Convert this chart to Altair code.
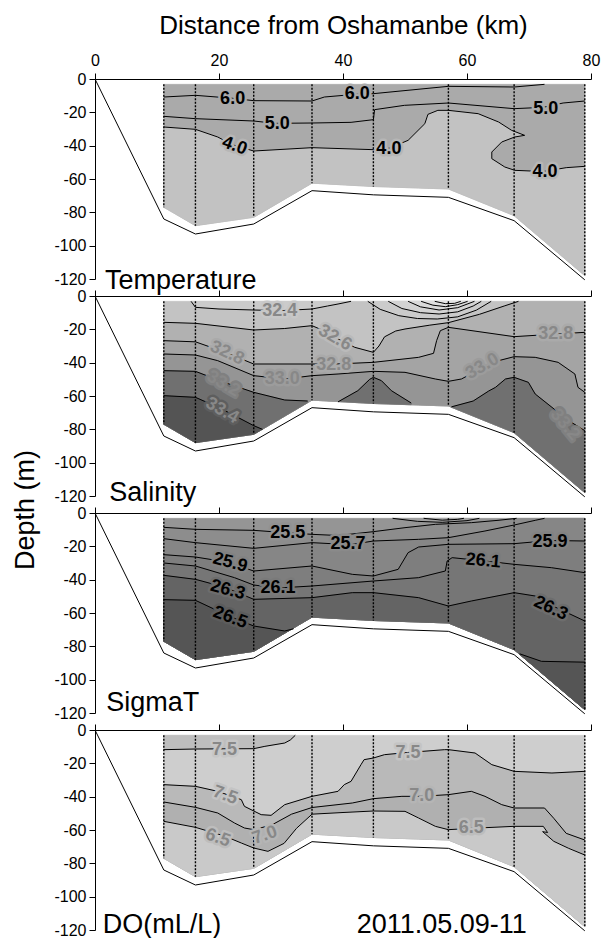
import altair as alt
import numpy as np
import pandas as pd

FONT = "Liberation Sans"

# ---------------- common geometry (km, depth m) ----------------
STATIONS = [11.1, 16.2, 25.6, 35.0, 44.9, 57.0, 67.6, 79.0]
FILL_BOTTOM = [-77, -88, -83, -62.5, -64.5, -66, -82, -118]
PROFILE_X = [0, 11.1, 16.2, 25.6, 35.0, 44.9, 57.0, 67.6, 79.0]
PROFILE_D = [0, -84, -93, -87, -67, -69.5, -71, -85, -120.5]
SURFACE = -3.2
X_TICKS = [0, 20, 40, 60, 80]
Y_TICKS = [0, -20, -40, -60, -80, -100, -120]

# ---------------- Temperature contours ----------------
T_60 = [(11.1, -10.8), (16.2, -9.8), (22, -11.5), (25.6, -13.0), (35.0, -13.2), (37.0, -10.8),
        (42, -9.2), (44.9, -8.8), (57.0, -4.4), (67.6, -4.8), (72.5, -3.2)]
T_50 = [(11.1, -22.4), (16.2, -23.8), (25.6, -25.2), (29, -26.6), (35.0, -26.4), (41.3, -26.0),
        (44.9, -24.4), (45.1, -18.4), (49.9, -15.8), (57.0, -14.4), (67.6, -17.8), (72.3, -17.0),
        (75.5, -14.4), (79.0, -13.2)]
T_40 = [(11.1, -28.8), (16.2, -30.2), (19.8, -34.8), (22.2, -39.5), (25.6, -43.2), (35.0, -41.2),
        (44.9, -42.4), (47.5, -41.5), (50.5, -36.8), (53.2, -26.8), (53.7, -21.2), (55.3, -18.8),
        (57.0, -18.8), (61.8, -20.8), (65.1, -25.8), (67.2, -30.8), (69.3, -33.8), (67.7, -34.8),
        (65.6, -37.8), (64.0, -43.8), (64.0, -47.8), (66.1, -52.8), (67.7, -54.8), (72.3, -55.5),
        (76.0, -53.2), (79.0, -52.4)]
T_LABELS = [("6.0", 22.2, -11.8, 0, "#aaaaaa"), ("6.0", 42.3, -9.2, 0, "#aaaaaa"),
            ("5.0", 29.4, -26.8, 0, "#aaaaaa"), ("5.0", 72.7, -18.2, 0, "#aaaaaa"),
            ("4.0", 22.5, -40.2, 20, "#b6b6b6"), ("4.0", 47.4, -41.8, 0, "#b6b6b6"),
            ("4.0", 72.6, -55.8, 0, "#b6b6b6")]

# ---------------- Salinity contours ----------------
S_324 = [(15.5, -3.2), (16.2, -6.8), (20, -7.8), (25.6, -8.4), (30, -8.8), (35, -7.8),
         (37.5, -6.0), (39.2, -4.8), (41.3, -3.2)]
S_LENS = [
    [(44.0, -3.2), (46, -8), (49, -11.8), (52, -13.5), (55.2, -13.8), (58.5, -12.5), (61.5, -8.5), (63.9, -3.2)],
    [(47.3, -3.2), (49.5, -7.5), (52.5, -10), (55.5, -10.8), (58.5, -9.5), (61, -6), (62.3, -3.2)],
    [(50.5, -3.2), (52.5, -6.5), (55.5, -8.4), (58.5, -7), (61.2, -3.2)],
    [(52.6, -3.2), (54.5, -5.5), (56.5, -6.4), (58.5, -5.2), (60.1, -3.2)],
    [(54.8, -3.2), (56.5, -4.6), (58, -4.4), (59, -3.2)],
]
S_LENS_SHADES = ["#cbcbcb", "#d3d3d3", "#dadada", "#e0e0e0", "#e6e6e6"]
S_326 = [(11.1, -15.8), (16.2, -16.4), (25.6, -20.4), (30.6, -19.5), (35, -17.8), (37, -21),
         (39.2, -25.8), (41.9, -30.8), (44.9, -33.8), (45.8, -30), (46.7, -24.5), (48.5, -21),
         (50, -19.8), (54, -17.5), (57, -16), (62, -11), (66, -6), (68.3, -3.2)]
S_328 = [(11.1, -26.8), (16.2, -27.5), (20.8, -33.5), (25.6, -40.8), (35, -40.8), (38.9, -40.8),
         (44.9, -39.8), (52.2, -36.8), (54.6, -34.4), (55.1, -26.8), (55.7, -20.8), (57, -18.8),
         (67.6, -24.4), (73.6, -23), (79, -21.8)]
S_330 = [(11.1, -34.8), (16.2, -35.4), (19.8, -38.8), (25.6, -47.8), (30.6, -49.8), (35, -47.8),
         (39.2, -46.8), (44.9, -45.2), (50, -45.8), (54.9, -49.8), (57, -51.2), (59.1, -49.8),
         (62.3, -43.5), (65.1, -38.8), (67.6, -36.4), (71, -36.8), (74.7, -39.8), (77.4, -46.8),
         (77.9, -54.8), (79, -57.8)]
S_332_A = [(11.1, -44.8), (16.2, -45.2), (20.6, -51.5), (25.6, -57.8), (30.6, -62.4), (34.3, -63.0)]
S_332_B = [(39.2, -63.5), (42.4, -56.8), (44.3, -50), (44.9, -48.8), (46.2, -50.8), (47.8, -56.8), (51, -64.2)]
S_332_C = [(57.5, -66.5), (61, -63), (63.5, -57), (64.6, -54.8), (66.2, -49.8), (67.6, -48.8),
           (69.9, -51.8), (71, -58.8), (73.7, -66.8), (76.4, -74.8), (79, -80.8)]
S_334 = [(11.1, -59.8), (16.2, -60.8), (20.3, -67.5), (25.6, -77.8), (27, -80)]
S_LABELS = [("32.4", 29.8, -8.8, 0, "#c7c7c7"), ("32.6", 38.7, -25.2, 30, "#bababa"),
            ("32.8", 21.3, -34.2, 25, "#aaaaaa"), ("33.0", 30.2, -49.8, 0, "#9c9c9c"),
            ("33.2", 20.7, -52.8, 30, "#808080"), ("33.4", 20.5, -68.8, 30, "#5e5e5e"),
            ("32.8", 38.5, -41.2, 0, "#aaaaaa"), ("33.0", 62.5, -42.2, 330, "#9c9c9c"),
            ("32.8", 74.3, -22.8, 0, "#aaaaaa"), ("33.2", 75.8, -77.2, 50, "#808080")]

# ---------------- SigmaT contours ----------------
G_255 = [(11.1, -8.6), (16.2, -9.8), (25.6, -10.4), (31.5, -12), (35, -12.8), (39.2, -13.5),
         (44.9, -11.2), (50, -8.8), (54.9, -6.8), (60.7, -5.8), (65, -4.4), (68, -3.2)]
G_257 = [(11.1, -15.4), (16.2, -17.8), (25.6, -21.2), (35, -17.8), (41.2, -19), (44.9, -16.8),
         (52.2, -15.8), (57, -14.8), (62.9, -10.8), (67.6, -7.2), (71, -4.4), (72.5, -3.2)]
G_259 = [(11.1, -25), (16.2, -26.4), (21.4, -29.5), (25.6, -34.8), (35, -31.8), (41.5, -36.8),
         (44.9, -37.8), (48.9, -33.8), (50.5, -23.8), (52.2, -20.4), (57, -18.8), (67.6, -18.4),
         (73.4, -16.5), (79, -16.8)]
G_261 = [(11.1, -30), (16.2, -31.8), (22.5, -38.8), (25.6, -43.2), (29.5, -45), (35, -43.8),
         (44.9, -40.8), (52.2, -38.8), (56.5, -34.8), (56.8, -28.8), (57.6, -26.8), (62.9, -28.8),
         (67.6, -30.8), (73.6, -32.8), (79, -35.8)]
G_263 = [(11.1, -37.4), (16.2, -39.8), (20.9, -44.5), (25.6, -51.8), (35, -50.8), (41.5, -47.8),
         (44.9, -47.8), (52.2, -50.8), (57, -55.8), (60.7, -52.8), (67.6, -47.8), (71, -49.8),
         (73.4, -55), (79, -64.8)]
G_265_A = [(11.1, -52), (16.2, -52.4), (21.7, -62), (25.6, -67.8), (30.6, -70.8), (32.0, -69.5)]
G_265_B = [(68.5, -84.5), (72, -89), (79, -89.5)]
G_LENS = [[(48, -3.2), (52, -5), (56, -5.6), (60, -4.6), (62, -3.2)],
          [(53, -3.2), (56, -4.3), (58.5, -3.8), (59.5, -3.2)]]
G_LENS_SHADES = ["#a0a0a0", "#ababab"]
G_LABELS = [("25.5", 31.1, -11.8, 0, "#919191"), ("25.7", 40.8, -18.8, 0, "#8a8a8a"),
            ("25.9", 21.8, -29.8, 15, "#828282"), ("26.3", 21.4, -46.2, 15, "#6d6d6d"),
            ("26.1", 29.5, -45.2, 0, "#7a7a7a"), ("26.5", 21.8, -62.8, 20, "#5c5c5c"),
            ("25.9", 73.4, -17.2, 0, "#828282"), ("26.1", 62.6, -28.8, 5, "#7a7a7a"),
            ("26.3", 73.5, -57.2, 25, "#6d6d6d")]

# ---------------- DO contours ----------------
D_75A = [(11.1, -11.8), (16.2, -11.4), (25.6, -11.2), (27.4, -9.8), (30.6, -7.8), (31.5, -6), (32.3, -3.2)]
D_75B = [(11.1, -32.8), (16.2, -33.8), (19.8, -36.8), (23.6, -41.8), (24.1, -45.8), (26.8, -50.8),
         (28.4, -51.2), (30.6, -44.8), (35, -39.8), (39.2, -36.8), (40.2, -32.8), (41.3, -30.8),
         (42.9, -20.8), (43.4, -17.8), (44.9, -16.8), (46.7, -14.8), (50.4, -13.5), (56.4, -11.8),
         (57, -11.8), (61.3, -13.8), (64, -20.8), (67.6, -24.8), (73.7, -25.8), (79, -24.8)]
D_70 = [(11.1, -43.2), (16.2, -46.4), (19.8, -49.8), (22.5, -55.8), (24.1, -58.8), (25.6, -59.8),
        (28.5, -57), (31.7, -50.5), (35, -46.5), (41.5, -43.8), (44.9, -41.2), (49.5, -39.8),
        (52.6, -39.8), (57, -38.8), (60.7, -36.8), (62.9, -39.8), (65.6, -44.8), (67.6, -46.8),
        (72.5, -46.8), (74, -53), (76, -62), (79, -66)]
D_65 = [(11.1, -54.8), (16.2, -58.4), (20.8, -63.5), (23.6, -67.8), (25.6, -70.8), (27.9, -72.8),
        (30.5, -68), (32.5, -59), (35, -50.5), (40, -49.5), (44.9, -48.6), (50, -48.8), (52.2, -52.8),
        (54.9, -57.8), (57, -59.8), (60.7, -59), (67.6, -57.8), (72.3, -57.8), (73, -61.5),
        (72.2, -61), (74, -66.8), (76.4, -71), (79, -75)]
D_LABELS = [("7.5", 20.9, -11.8, 0, "#c6c6c6"), ("7.5", 21.0, -39.2, 20, "#c4c4c4"),
            ("6.5", 19.8, -64.8, 20, "#bdbdbd"), ("7.0", 27.4, -63.2, 340, "#b5b5b5"),
            ("7.5", 50.5, -13.8, 0, "#c4c4c4"), ("7.0", 52.7, -39.8, 0, "#b5b5b5"),
            ("6.5", 60.7, -58.8, 0, "#bdbdbd")]

PANEL_NAMES = [("Temperature", 1.6, -126), ("Salinity", 2.3, -123), ("SigmaT", 1.8, -119),
               ("DO(mL/L)", 1.25, -121.5)]
DATE_TEXT = ("2011.05.09-11", 42.2, -121.5)
DEPTH_TITLE = ("Depth (m)", -11.1, -128.4)


# ---------------- helpers ----------------
def bottom_at(x):
    return float(np.interp(x, STATIONS, FILL_BOTTOM))


def below(contour, to_top_right=False):
    pts = [tuple(p) for p in contour]
    if to_top_right:
        pts.append((STATIONS[-1], SURFACE))
    xs, xe = pts[0][0], pts[-1][0]
    tail = [(xe, bottom_at(xe))]
    tail += [(x, d) for x, d in zip(STATIONS[::-1], FILL_BOTTOM[::-1]) if xs < x < xe]
    tail.append((xs, bottom_at(xs)))
    return pts + tail


WHOLE = below([(STATIONS[0], SURFACE), (STATIONS[-1], SURFACE)])

XS = alt.Scale(domain=[0, 80], nice=False, zero=False)
YS = alt.Scale(domain=[-120, 0], nice=False, zero=False)


def axis_x(first):
    kw = dict(orient="top", values=X_TICKS, tickSize=6, tickColor="black", domainColor="black",
              labelFontSize=16, labelFont=FONT, labelColor="black", labelPadding=5,
              labelFlush=False, grid=False)
    if first:
        kw.update(titleFontSize=26, titleFont=FONT, titleFontWeight="normal",
                  titleColor="black", titlePadding=14)
    else:
        kw.update(labels=False)
    return alt.Axis(**kw)


AXIS_Y = alt.Axis(values=Y_TICKS, tickSize=6, tickColor="black", domainColor="black",
                  labelFontSize=16, labelFont=FONT, labelColor="black", labelPadding=3,
                  labelOverlap=False, grid=False,
                  labelExpr="datum.value == 0 ? '0' : '-' + format(-datum.value, 'd')")


def frame(pts):
    return pd.DataFrame({"x": [p[0] for p in pts], "d": [p[1] for p in pts],
                         "i": list(range(len(pts)))})


def panel(idx, polys, lines, labels, label_color, extra_texts):
    X = alt.X("x:Q", scale=XS, axis=axis_x(idx == 0),
              title="Distance from Oshamanbe (km)" if idx == 0 else None)
    Y = alt.Y("d:Q", scale=YS, axis=AXIS_Y, title=None)
    layers = []
    for pts, color in polys:
        layers.append(
            alt.Chart(frame(pts)).mark_line(interpolate="linear-closed", fill=color, stroke=color,
                                            strokeWidth=0.6)
            .encode(x=X, y=Y, order="i:Q"))
    rows = []
    for k, ln in enumerate(lines):
        for j, (x, d) in enumerate(ln):
            rows.append({"x": x, "d": d, "line": k, "i": j})
    layers.append(alt.Chart(pd.DataFrame(rows)).mark_line(color="black", strokeWidth=1)
                  .encode(x=X, y=Y, detail="line:N", order="i:Q"))
    st = pd.DataFrame({"x": STATIONS, "d": [SURFACE] * len(STATIONS), "d2": FILL_BOTTOM})
    layers.append(alt.Chart(st).mark_rule(color="black", strokeWidth=1.4, strokeDash=[2, 1.5])
                  .encode(x=X, y=Y, y2="d2:Q"))
    prof = pd.DataFrame({"x": PROFILE_X, "d": PROFILE_D, "i": list(range(len(PROFILE_X)))})
    layers.append(alt.Chart(prof).mark_line(color="black", strokeWidth=1)
                  .encode(x=X, y=Y, order="i:Q"))
    lab = pd.DataFrame([{"t": t, "x": x, "d": d, "a": a, "h": h} for t, x, d, a, h in labels])
    layers.append(alt.Chart(lab).mark_text(font=FONT, fontSize=18, fontWeight="bold",
                                           strokeWidth=5, strokeJoin="round")
                  .encode(x=X, y=Y, text="t:N", angle=alt.Angle("a:Q", scale=None),
                          color=alt.Color("h:N", scale=None), stroke=alt.Stroke("h:N", scale=None)))
    layers.append(alt.Chart(lab).mark_text(font=FONT, fontSize=18, fontWeight="bold",
                                           color=label_color)
                  .encode(x=X, y=Y, text="t:N", angle=alt.Angle("a:Q", scale=None)))
    for t, x, d, ang, size in extra_texts:
        df = pd.DataFrame({"t": [t], "x": [x], "d": [d]})
        if ang:
            mk = alt.Chart(df).mark_text(font=FONT, fontSize=size, color="black", angle=ang,
                                         align="center", baseline="middle")
        else:
            mk = alt.Chart(df).mark_text(font=FONT, fontSize=size, color="black", align="left",
                                         baseline="alphabetic")
        layers.append(mk.encode(x=X, y=Y, text="t:N"))
    return alt.layer(*layers).properties(width=496, height=200)


def closed(pts):
    return list(pts)


p_temp = panel(0,
               [(WHOLE, "#aaaaaa"), (below(T_40), "#c2c2c2")],
               [T_60, T_50, T_40], T_LABELS, "black",
               [(PANEL_NAMES[0][0], PANEL_NAMES[0][1], PANEL_NAMES[0][2], 0, 27)])

sal_polys = [(WHOLE, "#c3c3c3"), (closed(S_324), "#cbcbcb")]
sal_polys += [(closed(a), c) for a, c in zip(S_LENS, S_LENS_SHADES)]
sal_polys += [(below(S_326, True), "#b1b1b1"), (below(S_328), "#a4a4a4"), (below(S_330), "#959595"),
              (below(S_332_A), "#707070"), (below(S_332_B), "#707070"), (below(S_332_C), "#707070"),
              (below(S_334), "#545454")]
p_sal = panel(1, sal_polys,
              [S_324] + S_LENS + [S_326, S_328, S_330, S_332_A, S_332_B, S_332_C, S_334],
              S_LABELS, "#888888",
              [(PANEL_NAMES[1][0], PANEL_NAMES[1][1], PANEL_NAMES[1][2], 0, 27),
               (DEPTH_TITLE[0], DEPTH_TITLE[1], DEPTH_TITLE[2], 270, 27)])

sig_polys = [(WHOLE, "#959595"), (below(G_255, True), "#8d8d8d"), (below(G_257, True), "#868686"),
             (below(G_259), "#7e7e7e"), (below(G_261), "#767676"), (below(G_263), "#646464"),
             (below(G_265_A), "#555555"), (below(G_265_B), "#555555")]
sig_polys += [(closed(a), c) for a, c in zip(G_LENS, G_LENS_SHADES)]
p_sig = panel(2, sig_polys,
              [G_255, G_257, G_259, G_261, G_263, G_265_A, G_265_B] + G_LENS,
              G_LABELS, "black",
              [(PANEL_NAMES[2][0], PANEL_NAMES[2][1], PANEL_NAMES[2][2], 0, 27)])

do_polys = [(WHOLE, "#cecece"), (D_75A + [(STATIONS[0], SURFACE)], "#bebebe"),
            (below(D_75B), "#b9b9b9"), (below(D_70), "#b0b0b0"), (below(D_65), "#c9c9c9")]
p_do = panel(3, do_polys, [D_75A, D_75B, D_70, D_65], D_LABELS, "#888888",
             [(PANEL_NAMES[3][0], PANEL_NAMES[3][1], PANEL_NAMES[3][2], 0, 27),
              (DATE_TEXT[0], DATE_TEXT[1], DATE_TEXT[2], 0, 27)])

chart = (alt.vconcat(p_temp, p_sal, p_sig, p_do, spacing=17, bounds="flush")
         .properties(padding={"top": 12, "left": 12, "right": 8, "bottom": 0}, background="white")
         .configure_view(stroke=None))

chart.save("out.html", embed_options={"renderer": "svg", "actions": False})
